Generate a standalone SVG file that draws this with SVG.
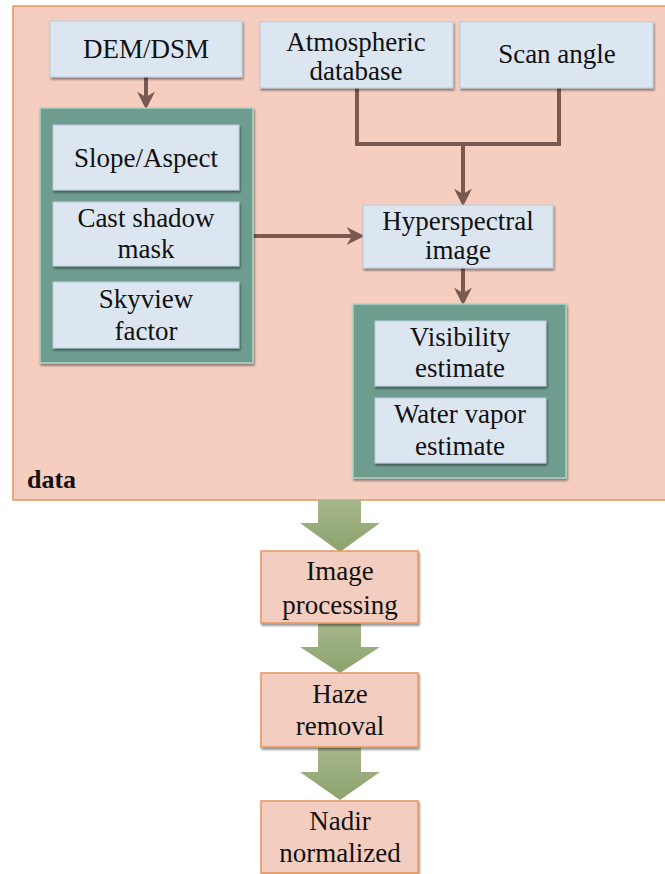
<svg xmlns="http://www.w3.org/2000/svg" width="665" height="874" viewBox="0 0 665 874">
<defs>
<filter id="sh" x="-10%" y="-10%" width="125%" height="130%">
<feDropShadow dx="1" dy="2" stdDeviation="1.2" flood-color="#000" flood-opacity="0.45"/>
</filter>
<linearGradient id="ga" x1="0" y1="0" x2="0" y2="1">
<stop offset="0" stop-color="#A6B78A"/>
<stop offset="1" stop-color="#8DA26E"/>
</linearGradient>
<marker id="ah" viewBox="0 0 10 10" refX="8" refY="5" markerWidth="4.5" markerHeight="4.5" orient="auto" markerUnits="strokeWidth">
<path d="M0,0 L10,5 L0,10 L3,5 Z" fill="#7A5A50"/>
</marker>
</defs>
<style>
text{font-family:'Liberation Serif',serif;font-size:27px;fill:#111;text-anchor:middle}
.blue{fill:#DCE6F1;stroke:#B9CBDD;stroke-width:1;filter:url(#sh)}
.green{fill:#6E9D8F;stroke:#A9D3C6;stroke-width:1.5;filter:url(#sh)}
.peach{fill:#F3CDBF;stroke:#E5955F;stroke-width:1.5;filter:url(#sh)}
.con{fill:none;stroke:#7A5A50;stroke-width:4}
.blk{fill:url(#ga)}
</style>

<g id="data">
<rect x="13" y="6" width="662" height="494" fill="#F5CEC0" stroke="#E8935E" stroke-width="1.5"/>
<text x="27" y="488" font-family="Liberation Serif" style="text-anchor:start;font-weight:bold;font-size:26px">data</text>
</g>

<g id="connectors">
<path class="con" d="M146,77 V106" marker-end="url(#ah)"/>
<path class="con" d="M357,88 V144 H559 V88"/>
<path class="con" d="M463,144 V203" marker-end="url(#ah)"/>
<path class="con" d="M253,236 H361" marker-end="url(#ah)"/>
<path class="con" d="M463,268 V302" marker-end="url(#ah)"/>
<polygon class="blk" points="318,500 361,500 361,523 380,523 340,552 300,523 318,523"/>
<polygon class="blk" points="318,623 361,623 361,647 380,647 340,673 300,647 318,647"/>
<polygon class="blk" points="318,747 361,747 361,772 380,772 340,800 300,772 318,772"/>
</g>

<g font-family="Liberation Serif">
<g id="dem">
<rect class="blue" x="50" y="21" width="192" height="56"/>
<text x="146" y="58">DEM/DSM</text>
</g>
<g id="atmospheric">
<rect class="blue" x="260" y="22" width="193" height="66"/>
<text x="356" y="51">Atmospheric</text>
<text x="356" y="80">database</text>
</g>
<g id="scan">
<rect class="blue" x="460" y="22" width="193" height="66"/>
<text x="557" y="63">Scan angle</text>
</g>

<g id="terrain">
<rect class="green" x="40" y="108" width="213" height="255"/>
<g id="slope">
<rect class="blue" x="53" y="125" width="186" height="65"/>
<text x="146" y="167">Slope/Aspect</text>
</g>
<g id="shadow">
<rect class="blue" x="53" y="202" width="186" height="64"/>
<text x="146" y="227">Cast shadow</text>
<text x="146" y="258">mask</text>
</g>
<g id="skyview">
<rect class="blue" x="53" y="282" width="186" height="66"/>
<text x="146" y="308">Skyview</text>
<text x="146" y="340">factor</text>
</g>
</g>

<g id="hyperspectral">
<rect class="blue" x="363" y="205" width="190" height="63"/>
<text x="458" y="230">Hyperspectral</text>
<text x="458" y="259">image</text>
</g>

<g id="estimates">
<rect class="green" x="353" y="304" width="213" height="174"/>
<g id="visibility">
<rect class="blue" x="375" y="321" width="171" height="65"/>
<text x="460" y="346">Visibility</text>
<text x="460" y="377">estimate</text>
</g>
<g id="water">
<rect class="blue" x="375" y="398" width="171" height="65"/>
<text x="460" y="423">Water vapor</text>
<text x="460" y="455">estimate</text>
</g>
</g>

<g id="processing">
<rect class="peach" x="261" y="551" width="157" height="72"/>
<text x="340" y="580">Image</text>
<text x="340" y="614">processing</text>
</g>
<g id="haze">
<rect class="peach" x="261" y="673" width="157" height="74"/>
<text x="340" y="703">Haze</text>
<text x="340" y="735">removal</text>
</g>
<g id="nadir">
<rect class="peach" x="261" y="801" width="157" height="72"/>
<text x="340" y="830">Nadir</text>
<text x="340" y="862">normalized</text>
</g>
</g>
</svg>
